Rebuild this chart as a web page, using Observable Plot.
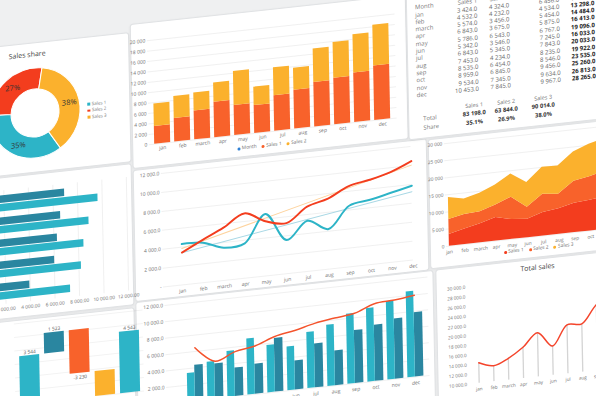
<!DOCTYPE html>
<html><head><meta charset="utf-8">
<script src="https://cdn.jsdelivr.net/npm/d3@7"></script>
<script src="https://cdn.jsdelivr.net/npm/@observablehq/plot@0.6"></script>
<style>
html,body{margin:0;padding:0;}
body{width:596px;height:396px;overflow:hidden;background:#eff0f1;font-family:"Open Sans",sans-serif;position:relative;}
#dash{position:absolute;left:0;top:0;width:700px;height:520px;transform-origin:0 0;transform:matrix(1,-0.108,0.02,1,0,0);}
.card{position:absolute;background:#fff;border:1px solid #e0e2e4;border-radius:3px;box-shadow:0 1px 3px rgba(0,0,0,0.06);}
.lbl{position:absolute;white-space:nowrap;color:#6d6d6d;line-height:1;}
.sw{display:inline-block;width:3px;height:3px;border-radius:50%;margin:0 1.5px 0 5px;vertical-align:middle;}
.sq{display:inline-block;width:2.5px;height:2.5px;margin-right:2px;vertical-align:middle;}
</style></head>
<body><div id="dash"></div>
<script>
// ---------- data ----------
const months = ["jan","feb","march","apr","may","jun","jul","aug","sep","oct","nov","dec"];
const seriesNames = ["Sales 1","Sales 2","Sales 3"];
const sales1 = [3424,4532,5574,6843,5786,5342,6843,7453,8535,8959,9534,10453];
const sales2 = [4324,4232,3456,3675,6543,3546,5345,4234,6454,6845,7345,7845];
const sales3 = [6456,4534,5454,5875,6767,7245,7843,8235,8546,9456,9634,9967];
const totals = [14204,13298,14484,16413,19096,16033,20033,19922,23535,25260,26813,28265];
const sumTotals = [83198,63844,90014];
const shareText = ["35.1%","26.9%","38.0%"];
const donutPct = [35,27,38];
const hbarRows = ["1","2","3","4","5"];
const hbarDark = [6950,6590,6290,6030,3970];
const hbarLight = [9660,8890,8440,8200,7280];
const wfSteps = ["a","b","c","d","e"];
const wfFrom = [0,3544,5067,0,0];
const wfTo = [3544,5067,1837,1837,4543];
const wfText = ["3 544","1 523","-3 230","","4 543"];
const totalAxis = [10000,30000];

// ---------- style ----------
const C = {red:"#f33d1e", orange:"#f8622b", yellow:"#fbb12d", teal:"#2db4c7", dteal:"#2a86a0", blue:"#2f80d5"};
const FONT = '"Open Sans", sans-serif';
const loc = d3.formatLocale({decimal:".", thousands:" ", grouping:[3], currency:["",""]});
const f0 = loc.format(",.0f"), f1 = loc.format(",.1f"), f2 = loc.format(",.2f");
const dash = document.getElementById("dash");
const st = (fs) => ({fontFamily:FONT, fontSize:fs+"px", color:"#6f6f6f", background:"none", overflow:"visible"});

function card(l,t,w,h){const d=document.createElement("div");d.className="card";Object.assign(d.style,{left:l+"px",top:t+"px",width:w+"px",height:h+"px"});dash.appendChild(d);}
function put(node,l,t){node.style.position="absolute";node.style.left=l+"px";node.style.top=t+"px";dash.appendChild(node);return node;}
function label(str,x,y,fs,css,anchor){const d=document.createElement("div");d.className="lbl";d.textContent=str;
  d.style.fontSize=fs+"px";d.style.top=(y-fs*0.55)+"px";
  if(anchor==="middle"){d.style.left=(x-100)+"px";d.style.width="200px";d.style.textAlign="center";}
  else if(anchor==="end"){d.style.left=(x-100)+"px";d.style.width="100px";d.style.textAlign="right";}
  else d.style.left=x+"px";
  Object.assign(d.style,css||{});dash.appendChild(d);return d;}
function hLegend(names,colors,cx,cy,fs){const d=document.createElement("div");d.className="lbl";
  d.style.fontSize=fs+"px";d.style.left=(cx-100)+"px";d.style.width="200px";d.style.textAlign="center";d.style.top=(cy-fs*0.55)+"px";
  names.forEach((n,i)=>{const s=document.createElement("span");s.className="sw";s.style.background=colors[i];d.appendChild(s);d.appendChild(document.createTextNode(n));});
  dash.appendChild(d);}

// ---------- cards ----------
card(-40,46,166,128); card(-40,177,166,140); card(-40,321,166,160);
card(129,38,274,143); card(129,184,292,130); card(129,316,296,165);
card(405,18,262,164); card(424,185,240,128); card(429,316,240,165);

// ---------- A: donut ----------
const donutColor = d3.scaleOrdinal(seriesNames,[C.teal,C.red,C.yellow]);
const chartA = Plot.plot({
  width:145, height:141, margin:0, marginRight:39.6, style:st(7),
  marks:[(index,scales,values,dims)=>{
    const cx=(dims.marginLeft+dims.width-dims.marginRight)/2, cy=(dims.marginTop+dims.height-dims.marginBottom)/2;
    const tot=d3.sum(donutPct), a0=2*Math.PI*(donutPct[2]/tot+10/360);
    const arcs=d3.pie().sort(null).startAngle(a0).endAngle(a0+2*Math.PI)(donutPct);
    const g=d3.create("svg:g").attr("transform",`translate(${cx},${cy})`);
    const arc=d3.arc().innerRadius(24).outerRadius(45);
    g.selectAll("path").data(arcs).join("path").attr("d",arc).attr("fill",(d,i)=>donutColor(seriesNames[i])).attr("stroke","#fff").attr("stroke-width",1);
    const la=d3.arc().innerRadius(35).outerRadius(35);
    g.selectAll("text").data(arcs).join("text").attr("transform",d=>`translate(${la.centroid(d)})`)
      .attr("text-anchor","middle").attr("dy","0.35em").attr("fill","#333").attr("font-size","7.5px").text(d=>d.data+"%");
    return g.node();
  }]
});
put(chartA,-20,46);
label("Sales share",26,58,7,{color:"#444"},"middle");
seriesNames.forEach((n,i)=>{const d=label("",85,113+i*6.5,4.5,{color:"#777"});
  const s=document.createElement("span");s.className="sq";s.style.background=donutColor(n);d.appendChild(s);d.appendChild(document.createTextNode(n));});

// ---------- B: stacked bars ----------
const barRows = months.flatMap((m,i)=>[{month:m,series:"Sales 1",value:sales1[i]},{month:m,series:"Sales 2",value:sales2[i]}]);
const chartB = Plot.plot({
  width:290, height:150, marginTop:16, marginBottom:30, marginLeft:21.6, marginRight:20.6, style:st(5),
  x:{domain:months, paddingInner:0.2, paddingOuter:0.05, label:null, tickSize:0, tickPadding:2.5},
  y:{domain:[0,20000], ticks:10, tickFormat:f0, label:null, tickSize:0, tickPadding:2, grid:true},
  color:{domain:["Sales 1","Sales 2"], range:[C.orange,C.yellow]},
  marks:[Plot.barY(barRows,{x:"month",y:"value",fill:"series"})]
});
put(chartB,124,40);
hLegend(["Month","Sales 1","Sales 2"],[C.blue,C.orange,C.yellow],266,174,4.8);

// ---------- C: table ----------
const colRight = {"Sales 1":476,"Sales 2":508,"Sales 3":558,"Total":593};
const rowY = (k)=>52.5+7.3*k;
label("Month",414,rowY(0),6,{color:"#777"});
["Sales 1","Sales 2","Sales 3","Total"].forEach(h=>label(h,colRight[h],rowY(0),6,{color:"#777"},"end"));
months.forEach((m,i)=>{
  label(m,414,rowY(i+1),6,{color:"#7a7a7a"});
  label(f1(sales1[i]),colRight["Sales 1"],rowY(i+1),6,{color:"#666"},"end");
  label(f1(sales2[i]),colRight["Sales 2"],rowY(i+1),6,{color:"#666"},"end");
  label(f1(sales3[i]),colRight["Sales 3"],rowY(i+1),6,{color:"#666"},"end");
  label(f1(totals[i]),colRight["Total"],rowY(i+1),6,{color:"#222",fontWeight:"bold"},"end");
});
const sumX=[471,503,540];
seriesNames.forEach((n,i)=>{
  label(n,sumX[i],157,5.5,{color:"#777"},"middle");
  label(f1(sumTotals[i]),sumX[i],165.5,5.8,{color:"#333",fontWeight:"bold"},"middle");
  label(shareText[i],sumX[i],174,5.8,{color:"#333",fontWeight:"bold"},"middle");
});
label("Total",420,165.5,5.8,{color:"#777"}); label("Share",420,174,5.8,{color:"#777"});

// ---------- D: horizontal bars ----------
const chartD = Plot.plot({
  width:175, height:140, marginTop:10.2, marginBottom:16.2, marginLeft:15, marginRight:13, style:st(4.8),
  x:{domain:[0,12000], ticks:6, tickFormat:f2, label:null, tickSize:0, tickPadding:3, grid:true},
  y:{domain:hbarRows, paddingInner:0.26, paddingOuter:0.1, axis:null},
  marks:[
    Plot.barX(hbarRows,{y:d=>d, x:(d,i)=>hbarDark[i], fill:C.dteal, insetBottom:8.5}),
    Plot.barX(hbarRows,{y:d=>d, x:(d,i)=>hbarLight[i], fill:C.teal, insetTop:8.5})
  ]
});
put(chartD,-40,180);

// ---------- E: line chart ----------
const s1 = sales1.map((v,i)=>({i,v})), s2 = sales2.map((v,i)=>({i,v}));
const chartE = Plot.plot({
  width:290, height:135, marginTop:10, marginBottom:11.5, marginLeft:27, marginRight:13.3, style:st(5),
  x:{domain:[0,11], insetLeft:19, ticks:d3.range(12), tickFormat:i=>months[i], label:null, tickSize:0, tickPadding:4},
  y:{domain:[0,12000], ticks:6, tickFormat:d=>d===0?"-":f1(d), label:null, tickSize:0, tickPadding:2, grid:true},
  marks:[
    Plot.linearRegressionY(s2,{x:"i",y:"v",stroke:"#a9d8e5",strokeWidth:1,ci:0}),
    Plot.linearRegressionY(s1,{x:"i",y:"v",stroke:"#fdd39e",strokeWidth:1,ci:0}),
    Plot.line(s2,{x:"i",y:"v",stroke:C.teal,strokeWidth:2,curve:"catmull-rom"}),
    Plot.line(s1,{x:"i",y:"v",stroke:C.red,strokeWidth:2,curve:"catmull-rom"})
  ]
});
put(chartE,130,180);

// ---------- F: stacked area ----------
const areaRows = [sales1,sales2,sales3].flatMap((arr,k)=>arr.map((v,i)=>({i,series:seriesNames[k],value:v})));
const chartF = Plot.plot({
  width:220, height:130, marginTop:8.7, marginBottom:18.5, marginLeft:20, marginRight:24.3, style:st(4.8),
  x:{domain:[0,11], insetLeft:3, ticks:d3.range(12), tickFormat:i=>months[i], label:null, tickSize:0, tickPadding:4},
  y:{domain:[0,30000], ticks:6, tickFormat:f0, label:null, tickSize:0, tickPadding:2, grid:true},
  color:{domain:seriesNames, range:[C.red,C.orange,C.yellow]},
  marks:[Plot.areaY(areaRows,{x:"i",y:"value",fill:"series"})]
});
put(chartF,420,182);
hLegend(seriesNames,[C.red,C.orange,C.yellow],530,306,4.8);

// ---------- G: total sales ----------
const tot = totals.map((v,i)=>({i,v}));
const chartG = Plot.plot({
  width:220, height:140, marginTop:20.3, marginBottom:22.4, marginLeft:30, marginRight:17.2, style:st(4.6),
  x:{domain:[0,11], insetLeft:10, ticks:d3.range(12), tickFormat:i=>months[i], label:null, tickSize:0, tickPadding:4},
  y:{domain:totalAxis, ticks:d3.range(totalAxis[0],totalAxis[1]+1,2000), tickFormat:f1, label:null, tickSize:0, tickPadding:2},
  marks:[
    Plot.ruleX(tot,{x:"i",y1:totalAxis[0],y2:"v",stroke:"#d4d4d4",strokeWidth:1.3}),
    Plot.line(tot,{x:"i",y:"v",stroke:"#f4442b",strokeWidth:1.5,curve:"catmull-rom"})
  ]
});
put(chartG,430,316);
label("Total sales",531,325,7,{color:"#444"},"middle");

// ---------- H: bars + line ----------
const chartH = Plot.plot({
  width:291, height:140, marginTop:10, marginBottom:31.6, marginLeft:28, marginRight:0, style:st(5),
  x:{domain:months, paddingInner:0.2, paddingOuter:0.1, insetLeft:15.2, label:null, tickSize:0, tickPadding:4},
  y:{domain:[0,12000], ticks:6, tickFormat:f1, label:null, tickSize:0, tickPadding:2, grid:true},
  marks:[
    Plot.barY(months,{x:d=>d, y:(d,i)=>sales2[i], fill:C.dteal, insetLeft:7.5}),
    Plot.barY(months,{x:d=>d, y:(d,i)=>sales1[i], fill:C.teal, insetRight:8.5}),
    Plot.line(months,{x:d=>d, y:(d,i)=>sales3[i], stroke:"#f4532c", strokeWidth:1.5, curve:"catmull-rom"})
  ]
});
put(chartH,130,312);

// ---------- I: waterfall ----------
const wfColors = [C.teal,C.dteal,C.orange,C.yellow,C.teal];
const chartI = Plot.plot({
  width:146, height:110, marginTop:4.3, marginBottom:24.7, marginLeft:17.3, marginRight:0, style:st(4.8),
  x:{domain:wfSteps, paddingInner:0.22, paddingOuter:0.1, axis:null},
  y:{domain:[0,6000], axis:null},
  color:{domain:wfSteps, range:wfColors},
  marks:[
    Plot.ruleY(d3.ticks(0,6000,6),{stroke:"#000",strokeOpacity:0.05}),
    Plot.barY(wfSteps,{x:d=>d, y1:(d,i)=>wfFrom[i], y2:(d,i)=>wfTo[i], fill:d=>d}),
    Plot.text(wfSteps,{x:d=>d, y:(d,i)=>Math.max(wfFrom[i],wfTo[i]), text:(d,i)=>wfTo[i]>=wfFrom[i]?wfText[i]:"", dy:-3.5, fill:"#555"}),
    Plot.text(wfSteps,{x:d=>d, y:(d,i)=>Math.min(wfFrom[i],wfTo[i]), text:(d,i)=>wfTo[i]<wfFrom[i]?wfText[i]:"", dy:4, fill:"#555"})
  ]
});
put(chartI,-10,320);
</script>
</body></html>
